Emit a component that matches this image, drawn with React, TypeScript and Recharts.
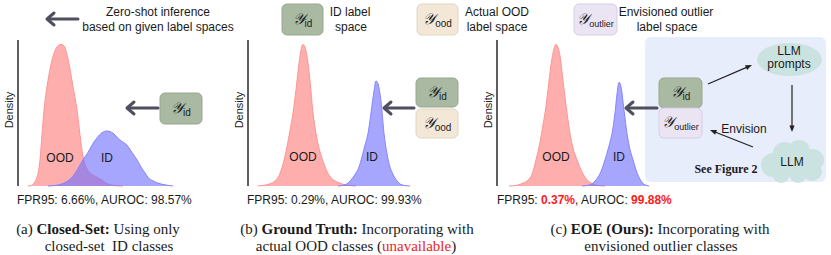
import { Area, AreaChart, XAxis, YAxis } from 'recharts';

// density curves: [x offset from y-axis in px, density % of plot height]
const closedSetOod = [
    [10, 0], [14, 0.5], [17, 3], [19, 6], [22, 18], [24, 35], [26, 52], [29, 68], [32, 80],
    [36, 91], [40, 96], [43, 97], [46, 96], [49, 90], [52, 80], [55, 68], [59, 52], [62, 35],
    [65, 20], [68, 13], [72, 9], [76, 7], [79, 6], [84, 4], [88, 2], [92, 0.8], [98, 0.2], [105, 0],
];
const closedSetId = [
    [30, 0], [38, 0.5], [46, 2], [54, 6], [60, 12], [65, 18], [70, 23], [74, 28], [79, 33],
    [84, 36.5], [89, 37.7], [93, 37], [97, 35], [101, 32], [105, 30], [109, 28], [113, 24],
    [116, 21], [119, 18], [123, 13], [127, 9], [130, 6], [135, 3.5], [140, 2], [147, 0.8], [155, 0],
];
const truthOod = [
    [10, 0], [16, 0.5], [22, 1.5], [27, 3.5], [31, 7], [35, 15], [39, 27], [42, 38], [45, 50],
    [48, 66], [51, 84], [53, 93], [55, 97], [57, 95], [59, 89], [62, 72], [65, 50], [68, 36],
    [71, 26], [75, 17], [79, 10], [84, 5], [90, 2.5], [96, 1], [102, 0.3], [108, 0],
];
const truthId = [
    [90, 0], [95, 0.5], [100, 2], [104, 5], [108, 9], [111, 13], [114, 20], [117, 28], [120, 36],
    [123, 50], [126, 65], [128, 72], [130, 70], [133, 58], [136, 36], [139, 22], [142, 13],
    [145, 8], [149, 3.5], [153, 1], [158, 0.2], [162, 0],
];
const eoeOod = [
    [12, 0], [20, 0.5], [26, 2], [31, 4], [35, 8], [39, 18], [43, 30], [46, 42], [48, 50],
    [51, 66], [54, 83], [57, 94], [59, 97], [61, 95], [63, 89], [66, 72], [70, 50], [73, 36],
    [76, 26], [80, 18], [84, 11], [88, 6], [92, 3], [96, 1.2], [102, 0.3], [108, 0],
];
const eoeId = [
    [85, 0], [91, 0.5], [96, 2], [100, 5], [104, 10], [108, 18], [111, 25], [113, 30], [115, 36],
    [118, 50], [120, 63], [122, 71], [124, 68], [127, 52], [130, 36], [133, 25], [136, 18],
    [139, 11], [142, 6], [145, 2.5], [148, 0.8], [152, 0],
];

const metrics = [
    { fpr: '6.66%', auroc: '98.57%', red: false },
    { fpr: '0.29%', auroc: '99.93%', red: false },
    { fpr: '0.37%', auroc: '99.88%', red: true },
];

const SANS = '"Liberation Sans", Arial, sans-serif';
const SERIF = '"Liberation Serif", "Times New Roman", serif';
const ARROW = '#4f4f5f';

function buildRows(ood: number[][], id: number[][]) {
    const rows: { x: number; ood?: number; id?: number }[] = [];
    ood.forEach(([x, v]) => rows.push({ x, ood: v }));
    id.forEach(([x, v]) => rows.push({ x, id: v }));
    return rows.sort((a, b) => a.x - b.x);
}

function DensityChart(props: { axisX: number; plotW: number; ood: number[][]; id: number[][] }) {
    const { axisX, plotW, ood, id } = props;
    const rows = buildRows(ood, id);
    const axisLine = { stroke: '#2a2a2a', strokeWidth: 1.5 };
    return (
        <div style={{ position: 'absolute', left: axisX - 20, top: 30 }}>
            <AreaChart width={20 + plotW + 2} height={157} data={rows} margin={{ top: 10, right: 2, bottom: 1, left: 0 }}>
                <XAxis type="number" dataKey="x" domain={[0, plotW]} tick={false} tickLine={false} height={0} axisLine={axisLine} />
                <YAxis
                    type="number"
                    domain={[0, 100]}
                    width={20}
                    tick={false}
                    tickLine={false}
                    axisLine={axisLine}
                    label={{ value: 'Density', angle: -90, position: 'center', dx: 1, dy: -3, fontSize: 11, fill: '#222', fontFamily: SANS }}
                />
                <Area dataKey="ood" type="monotone" connectNulls fill="#ff6b6b" fillOpacity={0.55} stroke="#ff9494" strokeWidth={1} isAnimationActive={false} />
                <Area dataKey="id" type="monotone" connectNulls fill="#6a6aff" fillOpacity={0.6} stroke="#8585ff" strokeWidth={1} isAnimationActive={false} />
            </AreaChart>
        </div>
    );
}

function BigArrow({ from, to, y }: { from: number; to: number; y: number }) {
    return (
        <g stroke={ARROW} strokeWidth={3} strokeLinecap="round" strokeLinejoin="round" fill="none">
            <line x1={from} y1={y} x2={to + 1} y2={y} />
            <polyline points={`${to + 7},${y - 6} ${to},${y} ${to + 7},${y + 6}`} />
        </g>
    );
}

function ThinArrow({ x1, y1, x2, y2 }: { x1: number; y1: number; x2: number; y2: number }) {
    const a = Math.atan2(y2 - y1, x2 - x1);
    const L = 7;
    const p1 = [x2 - L * Math.cos(a - 0.38), y2 - L * Math.sin(a - 0.38)];
    const p2 = [x2 - L * Math.cos(a + 0.38), y2 - L * Math.sin(a + 0.38)];
    return (
        <g>
            <line x1={x1} y1={y1} x2={x2 - 4 * Math.cos(a)} y2={y2 - 4 * Math.sin(a)} stroke="#222" strokeWidth={1.2} />
            <polygon points={`${x2},${y2} ${p1[0]},${p1[1]} ${p2[0]},${p2[1]}`} fill="#222" />
        </g>
    );
}

function LabelBox(props: { x: number; y: number; w: number; h: number; fill: string; stroke: string; sub: string }) {
    const { x, y, w, h, fill, stroke, sub } = props;
    return (
        <g>
            <rect x={x} y={y} width={w} height={h} rx={5} fill={fill} stroke={stroke} strokeWidth={1} />
            <text x={x + w / 2} y={y + h / 2 + 4} textAnchor="middle" fill="#222">
                <tspan fontFamily={SERIF} fontStyle="italic" fontSize={15}>𝒴</tspan>
                <tspan fontFamily={SANS} fontSize={sub === 'outlier' ? 9 : 10} dy={3}>{sub}</tspan>
            </text>
        </g>
    );
}

const GREEN = { fill: '#a9b9a2', stroke: '#97a78f' };
const BEIGE = { fill: '#f3e8d8', stroke: '#e2d5c0' };
const LILAC = { fill: '#ebe4f3', stroke: '#d7cde5' };

function T({ x, y, children, size = 12, anchor = 'middle', weight = 'normal', family = SANS }: any) {
    return (
        <text x={x} y={y} fontSize={size} textAnchor={anchor} dominantBaseline="middle" fontFamily={family} fontWeight={weight} fill="#1a1a1a">
            {children}
        </text>
    );
}

function Overlay() {
    return (
        <svg width={831} height={255} style={{ position: 'absolute', left: 0, top: 0, pointerEvents: 'none' }}>
            {/* panel a */}
            <BigArrow from={78} to={47} y={19} />
            <T x={158} y={13}>Zero-shot inference</T>
            <T x={158} y={28}>based on given label spaces</T>
            <LabelBox x={160} y={93} w={42} h={31} {...GREEN} sub="id" />
            <BigArrow from={158} to={127} y={108} />
            <T x={60} y={159}>OOD</T>
            <T x={107} y={159}>ID</T>

            {/* panel b */}
            <LabelBox x={282} y={4} w={41} h={31} {...GREEN} sub="id" />
            <T x={350} y={13}>ID label</T>
            <T x={351} y={28}>space</T>
            <LabelBox x={417} y={4} w={41} h={31} {...BEIGE} sub="ood" />
            <T x={497} y={13}>Actual OOD</T>
            <T x={497} y={28}>label space</T>
            <LabelBox x={416} y={78} w={42} h={29} {...GREEN} sub="id" />
            <LabelBox x={416} y={109} w={42} h={29} {...BEIGE} sub="ood" />
            <BigArrow from={414} to={384} y={108} />
            <T x={303} y={158}>OOD</T>
            <T x={372} y={158}>ID</T>

            {/* panel c */}
            <LabelBox x={574} y={4} w={43} h={31} {...LILAC} sub="outlier" />
            <T x={666} y={13}>Envisioned outlier</T>
            <T x={667} y={28}>label space</T>
            <rect x={645} y={37} width={181} height={145} rx={6} fill="#e8edfb" />
            <LabelBox x={659} y={78} w={43} h={30} {...GREEN} sub="id" />
            <LabelBox x={659} y={108} w={43} h={30} {...LILAC} sub="outlier" />
            <BigArrow from={657} to={626} y={108} />
            <T x={556} y={158}>OOD</T>
            <T x={619} y={158}>ID</T>
            <ellipse cx={789.5} cy={59.5} rx={32.5} ry={16.5} fill="#cbe3e0" />
            <T x={789} y={52}>LLM</T>
            <T x={789} y={65}>prompts</T>
            <g fill="#cbe3e0">
                <circle cx={773} cy={165} r={12} />
                <circle cx={784} cy={153} r={11} />
                <circle cx={799} cy={151} r={11} />
                <circle cx={813} cy={160} r={11} />
                <circle cx={812} cy={171} r={10} />
                <circle cx={798} cy={174} r={9} />
                <circle cx={781} cy={174} r={9} />
                <ellipse cx={792} cy={163} rx={24} ry={13} />
            </g>
            <T x={792} y={163}>LLM</T>
            <ThinArrow x1={708} y1={84} x2={752} y2={65} />
            <ThinArrow x1={792} y1={85} x2={792} y2={132} />
            <ThinArrow x1={753} y1={147} x2={710} y2={130} />
            <T x={744} y={130}>Envision</T>
            <T x={726} y={170} size={12} weight="bold" family={SERIF}>See Figure 2</T>

            {/* metrics */}
            {metrics.map((m, i) => {
                const x0 = [17, 247, 497][i];
                const col = m.red ? '#ff1a1a' : '#1a1a1a';
                const w = m.red ? 'bold' : 'normal';
                return (
                    <text key={i} x={x0} y={201} fontSize={12} fontFamily={SANS} dominantBaseline="middle" fill="#1a1a1a">
                        FPR95: <tspan fill={col} fontWeight={w}>{m.fpr}</tspan>, AUROC: <tspan fill={col} fontWeight={w}>{m.auroc}</tspan>
                    </text>
                );
            })}
        </svg>
    );
}

function Caption({ cx, y, children }: any) {
    return (
        <div style={{ position: 'absolute', left: cx - 200, top: y - 9, width: 400, textAlign: 'center', fontFamily: SERIF, fontSize: 15, lineHeight: '18px', color: '#1a1a1a', whiteSpace: 'pre' }}>
            {children}
        </div>
    );
}

export default function App() {
    return (
        <div style={{ position: 'absolute', left: 0, top: 0, width: 831, height: 255, background: '#fff', overflow: 'hidden' }}>
            <DensityChart axisX={18} plotW={169} ood={closedSetOod} id={closedSetId} />
            <DensityChart axisX={248} plotW={172} ood={truthOod} id={truthId} />
            <DensityChart axisX={497} plotW={166} ood={eoeOod} id={eoeId} />
            <Overlay />
            <Caption cx={98} y={229}>(a) <b>Closed-Set:</b> Using only</Caption>
            <Caption cx={109} y={246}>closed-set  ID classes</Caption>
            <Caption cx={357} y={229}>(b) <b>Ground Truth:</b> Incorporating with</Caption>
            <Caption cx={356} y={246}>actual OOD classes (<span style={{ color: '#ee2222' }}>unavailable</span>)</Caption>
            <Caption cx={660} y={229}>(c) <b>EOE (Ours):</b> Incorporating with</Caption>
            <Caption cx={661} y={246}>envisioned outlier classes</Caption>
        </div>
    );
}
